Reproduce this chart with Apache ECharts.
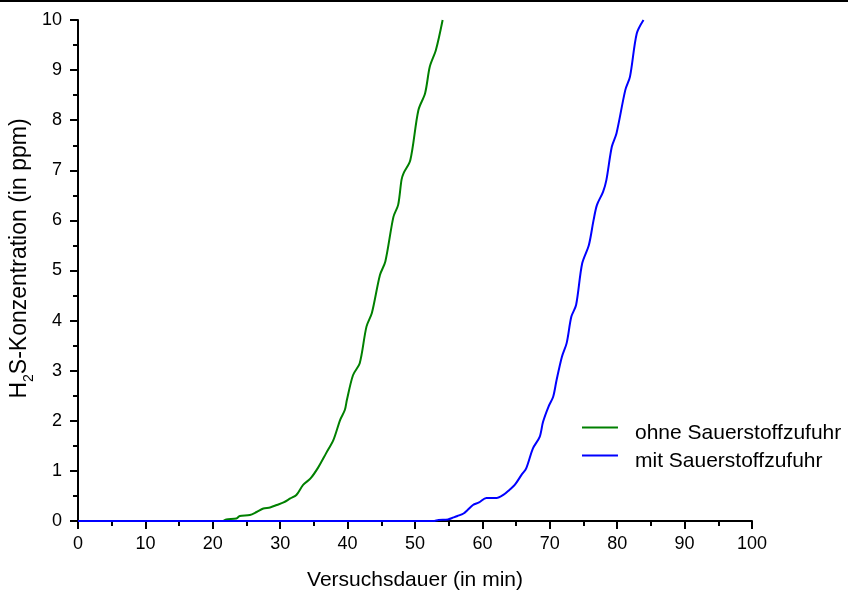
<!DOCTYPE html>
<html>
<head>
<meta charset="utf-8">
<script src="https://cdn.jsdelivr.net/npm/echarts@6/dist/echarts.min.js"></script>
<style>
  html, body { margin: 0; padding: 0; background: #fff; }
  #chart { width: 848px; height: 595px; }
</style>
</head>
<body>
<div id="chart"></div>
<script>
const ohneX = [0, 21.5, 22, 23.5, 24, 25.5, 26.5, 27.5, 28.5, 29.5, 30.5, 31.5, 32.4, 33.4, 34.5, 35.6, 36.8, 37.9, 38.9, 39.6, 39.9, 40.8, 41.8, 42.8, 43.6, 44.8, 45.6, 46.8, 47.5, 48.0, 48.3, 49.3, 50.5, 51.5, 52.2, 53.1, 54.1];
const ohneY = [0, 0, 0.03, 0.05, 0.1, 0.12, 0.18, 0.25, 0.27, 0.32, 0.37, 0.45, 0.52, 0.72, 0.85, 1.06, 1.35, 1.62, 2.02, 2.22, 2.42, 2.91, 3.15, 3.88, 4.15, 4.91, 5.18, 6.07, 6.31, 6.81, 6.94, 7.2, 8.2, 8.54, 9.07, 9.4, 10];

const mitX = [0, 52.7, 53.5, 54.9, 55.5, 56.3, 57.2, 57.8, 58.6, 59.5, 60.6, 62.1, 63.1, 64.0, 64.8, 65.8, 66.5, 67.5, 68.5, 69.0, 69.8, 70.5, 71.0, 71.8, 72.5, 73.2, 73.9, 74.8, 75.8, 76.5, 77.0, 77.9, 78.4, 79.2, 79.9, 81.2, 81.9, 82.9, 83.9];
const mitY = [0, 0, 0.02, 0.03, 0.06, 0.1, 0.15, 0.22, 0.32, 0.37, 0.46, 0.46, 0.52, 0.62, 0.72, 0.92, 1.05, 1.45, 1.68, 1.98, 2.28, 2.48, 2.81, 3.28, 3.55, 4.08, 4.31, 5.14, 5.51, 6.01, 6.31, 6.57, 6.81, 7.47, 7.74, 8.6, 8.87, 9.73, 10];

const seriesNames = ['ohne Sauerstoffzufuhr', 'mit Sauerstoffzufuhr'];

function pairs(xs, ys) {
  return xs.map(function (x, i) { return [x, ys[i]]; });
}

const font = 'Liberation Sans, Arial, sans-serif';
let myChart = echarts.init(document.getElementById('chart'));
myChart.setOption({
  animation: false,
  grid: {
    left: 78,
    right: 96,
    top: 20,
    bottom: 74,
    containLabel: false,
    outerBoundsMode: 'none'
  },
  legend: {
    orient: 'vertical',
    left: 577,
    top: 418,
    itemWidth: 36,
    itemHeight: 14,
    itemGap: 7,
    // Linie sitzt etwas oberhalb der Textmitte
    icon: 'path://M0,0h36v2h-36z M0,14h0.01v0.01h-0.01z',
    textStyle: {
      fontFamily: font,
      fontSize: 21,
      color: '#000',
      padding: [0, 0, 0, 12]
    },
    data: seriesNames
  },
  graphic: [{
    type: 'line',
    shape: { x1: 0, y1: 1, x2: 848, y2: 1 },
    style: { stroke: '#000', lineWidth: 2 }
  }],
  xAxis: {
    type: 'value',
    min: 0,
    max: 100,
    interval: 10,
    name: 'Versuchsdauer (in min)',
    nameLocation: 'middle',
    nameGap: 49,
    nameMoveOverlap: false,
    nameTextStyle: { fontFamily: font, fontSize: 21, color: '#000' },
    axisLine: { onZero: false, lineStyle: { color: '#000', width: 2 } },
    axisTick: { length: 8, lineStyle: { color: '#000', width: 2 } },
    minorTick: { show: true, splitNumber: 2, length: 5, lineStyle: { color: '#000', width: 2 } },
    axisLabel: { fontFamily: font, fontSize: 18, color: '#000', margin: 14 },
    splitLine: { show: false }
  },
  yAxis: {
    type: 'value',
    min: 0,
    max: 10,
    interval: 1,
    name: '{a|H}{s|2}{a|S-Konzentration (in ppm)}',
    nameLocation: 'middle',
    nameGap: 47,
    nameMoveOverlap: false,
    nameTextStyle: {
      padding: [0, 0, 0, 24],
      rich: {
        a: { fontFamily: font, fontSize: 23, color: '#000' },
        s: { fontFamily: font, fontSize: 14, color: '#000', verticalAlign: 'bottom', padding: [0, 0, -5, 0] }
      }
    },
    axisLine: { show: true, lineStyle: { color: '#000', width: 2 } },
    axisTick: { show: true, length: 8, lineStyle: { color: '#000', width: 2 } },
    minorTick: { show: true, splitNumber: 2, length: 5, lineStyle: { color: '#000', width: 2 } },
    axisLabel: { fontFamily: font, fontSize: 18, color: '#000', margin: 16 },
    splitLine: { show: false }
  },
  series: [{
    name: seriesNames[0],
    type: 'line',
    smooth: 0.3,
    symbol: 'none',
    color: '#008000',
    lineStyle: { width: 2, color: '#008000' },
    data: pairs(ohneX, ohneY)
  }, {
    name: seriesNames[1],
    type: 'line',
    smooth: 0.3,
    symbol: 'none',
    color: '#0000ff',
    lineStyle: { width: 2, color: '#0000ff' },
    data: pairs(mitX, mitY)
  }]
});
</script>
</body>
</html>
